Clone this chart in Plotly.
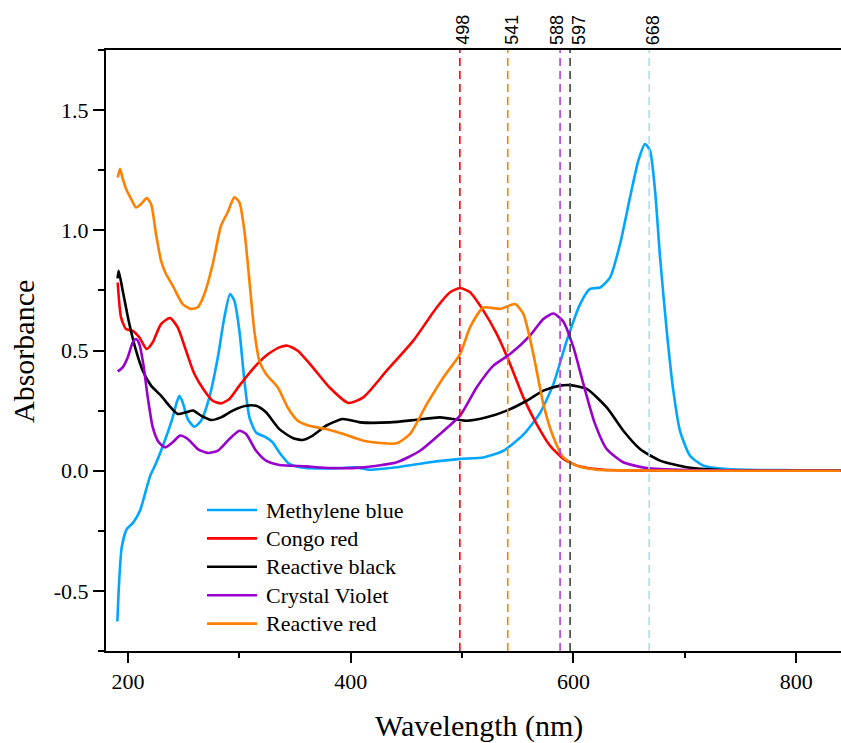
import plotly.graph_objects as go

# ---- UV-Vis spectra (wavelength in nm, absorbance) ----
mb_wl = [190.4, 191.9, 194.3, 198.8, 204.8, 210.8, 216.2, 220, 225.5, 234.1, 240.1, 243.7,
         246.1, 249.1, 253.6, 259.6, 265.6, 273, 280.6, 286.5, 291.6, 295.5, 300, 304.5,
         309, 315, 323.9, 329.9, 335.9, 344.9, 359.9, 389.8, 404.8, 417.3, 441.3, 471.2,
         498.2, 519.1, 537.1, 555, 570, 582, 594, 606, 614.9, 624, 632.9, 641.9, 650.8,
         658.3, 664.3, 668.8, 673.3, 677.8, 683.8, 689.7, 695.7, 704.7, 716.7, 737.7,
         770, 800, 840]
mb_abs = [-0.627, -0.471, -0.319, -0.243, -0.215, -0.166, -0.08, -0.02, 0.035, 0.139, 0.222,
          0.284, 0.312, 0.284, 0.215, 0.183, 0.208, 0.305, 0.471, 0.638, 0.735, 0.707, 0.582,
          0.374, 0.222, 0.159, 0.139, 0.118, 0.076, 0.028, 0.011, 0.011, 0.014, 0.004, 0.014,
          0.035, 0.049, 0.055, 0.083, 0.15, 0.24, 0.36, 0.541, 0.693, 0.756, 0.762, 0.804,
          0.943, 1.137, 1.29, 1.359, 1.331, 1.165, 0.887, 0.582, 0.333, 0.166, 0.062, 0.021,
          0.007, 0.003, 0.002, 0.002]

cr_wl = [190.7, 193.7, 198.2, 204.2, 210.1, 216.8, 222.2, 229.6, 237.7, 244.6, 252.1, 259.6,
         268.6, 276.1, 283.5, 291, 300, 312, 323.9, 335.9, 343.4, 352.4, 365.9, 380.8, 397.8,
         411.3, 432.3, 456.2, 477.2, 489.2, 498.2, 507.1, 519.1, 531.1, 543.1, 555, 567, 579,
         591, 606, 627, 660, 700, 750, 800, 840]
cr_abs = [0.783, 0.638, 0.589, 0.582, 0.555, 0.506, 0.534, 0.61, 0.635, 0.596, 0.499, 0.402,
          0.333, 0.291, 0.28, 0.298, 0.354, 0.423, 0.478, 0.513, 0.52, 0.499, 0.43, 0.347, 0.282,
          0.305, 0.416, 0.541, 0.679, 0.742, 0.76, 0.742, 0.666, 0.569, 0.444, 0.305, 0.194,
          0.104, 0.049, 0.017, 0.004, 0.001, 0, 0, 0, 0]

rb_wl = [190.6, 191.6, 195.2, 201.2, 207.2, 213.2, 220.7, 229.6, 237.1, 244.6, 252.1, 258.6,
         265.6, 274.5, 283.5, 294, 306, 315, 323.9, 335.9, 347.9, 356.9, 365.9, 377.8, 392.8,
         408.4, 435.3, 459.3, 480.2, 504.2, 522.1, 540.1, 558.1, 573, 588, 597, 612, 629.9,
         644.8, 659.8, 677.8, 701.7, 731.7, 770, 800, 840]
rb_abs = [0.8, 0.832, 0.749, 0.61, 0.499, 0.416, 0.354, 0.312, 0.27, 0.236, 0.243, 0.25,
          0.229, 0.211, 0.222, 0.25, 0.27, 0.27, 0.243, 0.173, 0.136, 0.128, 0.146, 0.187,
          0.215, 0.201, 0.201, 0.212, 0.222, 0.208, 0.222, 0.25, 0.291, 0.333, 0.354, 0.356,
          0.34, 0.263, 0.166, 0.09, 0.042, 0.014, 0.003, 0.001, 0, 0]

cv_wl = [190.7, 195.2, 199.7, 204.2, 207.2, 210.1, 213.7, 217.7, 222.2, 227.6, 233.5, 240.1,
         246.7, 253.6, 262.6, 271.6, 280.6, 291, 300, 306, 315, 323.9, 335.9, 359.9, 381.4,
         411.3, 441.3, 462.2, 480.2, 498.2, 513.2, 528.1, 543.1, 561, 573, 582, 591, 600,
         609, 619, 629.9, 644.8, 665.8, 701.7, 750, 800, 840]
cv_abs = [0.413, 0.43, 0.471, 0.534, 0.548, 0.527, 0.444, 0.305, 0.18, 0.118, 0.097, 0.118,
          0.146, 0.132, 0.09, 0.074, 0.083, 0.132, 0.166, 0.153, 0.083, 0.042, 0.024, 0.018,
          0.011, 0.014, 0.035, 0.083, 0.153, 0.229, 0.347, 0.437, 0.485, 0.562, 0.631, 0.654,
          0.62, 0.513, 0.36, 0.2, 0.09, 0.035, 0.011, 0.003, 0.001, 0, 0]

rr_wl = [190.7, 192.8, 195.2, 198.2, 202.7, 207.2, 211.7, 216.8, 220.7, 225.1, 229.6, 234.1,
         240.1, 249.1, 256.6, 262.6, 268.6, 276.1, 283.5, 289.5, 295.5, 300, 304.5, 309,
         313.4, 317.9, 323.9, 334.4, 343.4, 352.4, 362.8, 377.8, 392, 411.3, 441.3, 453.3,
         468.3, 483.2, 498.2, 507.1, 519.1, 534.1, 547.6, 555, 564, 573, 582, 591, 603, 621,
         660, 700, 750, 800, 840]
rr_abs = [1.22, 1.256, 1.215, 1.173, 1.131, 1.095, 1.109, 1.134, 1.109, 0.985, 0.874, 0.818,
          0.77, 0.693, 0.673, 0.68, 0.735, 0.86, 1.019, 1.075, 1.137, 1.116, 0.998, 0.79,
          0.582, 0.458, 0.402, 0.347, 0.263, 0.208, 0.187, 0.173, 0.155, 0.125, 0.114, 0.153,
          0.277, 0.388, 0.485, 0.596, 0.679, 0.673, 0.693, 0.652, 0.485, 0.277, 0.139, 0.055,
          0.021, 0.004, 0.001, 0, 0, 0, 0]

series_names = ["Methylene blue", "Congo red", "Reactive black", "Crystal Violet", "Reactive red"]
series_colors = ["#00A6FF", "#FF0000", "#000000", "#9900CC", "#FF8000"]
series_data = [(mb_wl, mb_abs), (cr_wl, cr_abs), (rb_wl, rb_abs), (cv_wl, cv_abs), (rr_wl, rr_abs)]

# absorption maxima marked with dashed guides
peak_wl = [498, 541, 588, 597, 668]
peak_colors = ["#FF0000", "#FF8000", "#B040D8", "#404040", "#A8DCF8"]
peak_label_shift = [3, 4, -3, 9, 4]  # px, keeps neighbouring labels apart

# y-axis ticks (hyphen-minus labels)
y_tick_vals = [-0.5, 0.0, 0.5, 1.0, 1.5]
y_tick_text = ["-0.5", "0.0", "0.5", "1.0", "1.5"]

SERIF = "Liberation Serif"

fig = go.Figure()

for (wl, ab), name, color in zip(series_data, series_names, series_colors):
    fig.add_trace(go.Scatter(
        x=wl, y=ab, mode="lines", name=name,
        line=dict(color=color, width=2.6, shape="spline", smoothing=0.6),
        showlegend=False,
    ))

for wl, color, dx in zip(peak_wl, peak_colors, peak_label_shift):
    fig.add_shape(type="line", xref="x", yref="paper", x0=wl, x1=wl, y0=0, y1=1,
                  line=dict(color=color, width=1.6, dash="8px,5px"), layer="above")
    fig.add_annotation(x=wl, y=1, xref="x", yref="paper", text=str(wl), showarrow=False,
                       textangle=-90, xanchor="center", yanchor="bottom", yshift=3, xshift=dx,
                       font=dict(family="Liberation Sans", size=18, color="black"))

# legend drawn as line samples with labels
W, H = 841, 743
ML, MR, MT, MB = 106, 0, 50, 92
pw, ph = W - ML - MR, H - MT - MB
leg_x0, leg_x1, leg_tx = 207, 257, 264
leg_y0, leg_dy = 510, 28.4
for i, (name, color) in enumerate(zip(series_names, series_colors)):
    yy = 1 - (leg_y0 + i * leg_dy - MT) / ph
    fig.add_shape(type="line", xref="paper", yref="paper",
                  x0=(leg_x0 - ML) / pw, x1=(leg_x1 - ML) / pw, y0=yy, y1=yy,
                  line=dict(color=color, width=2.6))
    fig.add_annotation(x=(leg_tx - ML) / pw, y=yy, xref="paper", yref="paper", text=name,
                       showarrow=False, xanchor="left", yanchor="middle",
                       font=dict(family=SERIF, size=22, color="black"))

# axis titles
fig.add_annotation(x=(479 - ML) / pw, y=0, xref="paper", yref="paper", text="Wavelength (nm)",
                   showarrow=False, xanchor="center", yanchor="middle", yshift=-75,
                   font=dict(family=SERIF, size=30, color="black"))
fig.add_annotation(x=0, y=1 - (352 - MT) / ph, xref="paper", yref="paper", text="Absorbance",
                   showarrow=False, textangle=-90, xanchor="center", yanchor="middle",
                   xshift=-(ML - 23), font=dict(family=SERIF, size=30, color="black"))

fig.update_layout(
    width=W, height=H,
    margin=dict(l=ML, r=MR, t=MT, b=MB, pad=0),
    paper_bgcolor="white", plot_bgcolor="white",
    font=dict(family=SERIF, size=22, color="black"),
    showlegend=False,
)
fig.update_xaxes(
    range=[180.2, 840.3], tickmode="linear", tick0=0, dtick=200,
    ticks="outside", ticklen=10, tickwidth=2, tickcolor="black",
    minor=dict(dtick=100, tick0=0, ticks="outside", ticklen=5, tickwidth=2, tickcolor="black"),
    showline=True, linewidth=2, linecolor="black", mirror=True,
    showgrid=False, zeroline=False,
    tickfont=dict(family=SERIF, size=22, color="black"),
)
fig.update_yaxes(
    range=[-0.75, 1.75], tickmode="array", tickvals=y_tick_vals, ticktext=y_tick_text,
    ticks="outside", ticklen=11, tickwidth=2, tickcolor="black",
    minor=dict(dtick=0.25, tick0=0, ticks="outside", ticklen=6, tickwidth=2, tickcolor="black"),
    showline=True, linewidth=2, linecolor="black", mirror=False,
    showgrid=False, zeroline=False,
    tickfont=dict(family=SERIF, size=22, color="black"),
)

fig.write_html("out.html")
